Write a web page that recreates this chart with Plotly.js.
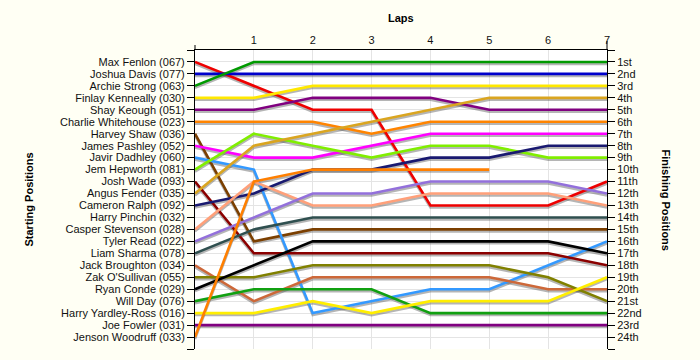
<!DOCTYPE html>
<html>
<head>
<meta charset="utf-8">
<script src="https://cdn.plot.ly/plotly-3.0.1.min.js"></script>
<style>html,body{margin:0;padding:0;background:#FFFFF4;}#chart{width:700px;height:360px;}</style>
</head>
<body>
<div id="chart"></div>
<script>
// ---- data ----
const laps = [0, 1, 2, 3, 4, 5, 6, 7];
const startingLabels = [
  "Max Fenlon (067)", "Joshua Davis (077)", "Archie Strong (063)", "Finlay Kenneally (030)",
  "Shay Keough (051)", "Charlie Whitehouse (023)", "Harvey Shaw (036)", "James Pashley (052)",
  "Javir Dadhley (060)", "Jem Hepworth (081)", "Josh Wade (093)", "Angus Fender (035)",
  "Cameron Ralph (092)", "Harry Pinchin (032)", "Casper Stevenson (028)", "Tyler Read (022)",
  "Liam Sharma (078)", "Jack Broughton (034)", "Zak O'Sullivan (055)", "Ryan Conde (029)",
  "Will Day (076)", "Harry Yardley-Ross (016)", "Joe Fowler (031)", "Jenson Woodruff (033)"
];
const finishingLabels = [
  "1st", "2nd", "3rd", "4th", "5th", "6th", "7th", "8th", "9th", "10th", "11th", "12th",
  "13th", "14th", "15th", "16th", "17th", "18th", "19th", "20th", "21st", "22nd", "23rd", "24th"
];

const posMaxFenlon        = [1, 3, 5, 5, 13, 13, 13, 11];
const posJoshuaDavis      = [2, 2, 2, 2, 2, 2, 2, 2];
const posArchieStrong     = [3, 1, 1, 1, 1, 1, 1, 1];
const posFinlayKenneally  = [4, 4, 3, 3, 3, 3, 3, 3];
const posShayKeough       = [5, 5, 4, 4, 4, 5, 5, 5];
const posCharlieWhitehouse= [6, 6, 6, 7, 6, 6, 6, 6];
const posHarveyShaw       = [7, 16, 15, 15, 15, 15, 15, 15];
const posJamesPashley     = [8, 9, 9, 8, 7, 7, 7, 7];
const posJavirDadhley     = [9, 10, 22, 21, 20, 20, 18, 16];
const posJemHepworth      = [10, 7, 8, 9, 8, 8, 9, 9];
const posJoshWade         = [11, 17, 17, 17, 17, 17, 17, 18];
const posAngusFender      = [12, 8, 7, 6, 5, 4, 4, 4];
const posCameronRalph     = [13, 12, 10, 10, 9, 9, 8, 8];
const posCasperStevenson  = [15, 11, 13, 13, 12, 12, 12, 13];
const posTylerRead        = [16, 14, 12, 12, 11, 11, 11, 12];
const posLiamSharma       = [17, 15, 14, 14, 14, 14, 14, 14];
const posJackBroughton    = [18, 21, 19, 19, 19, 19, 20, 20];
const posZakOSullivan     = [19, 19, 18, 18, 18, 18, 19, 21];
const posRyanConde        = [20, 18, 16, 16, 16, 16, 16, 17];
const posWillDay          = [21, 20, 20, 20, 22, 22, 22, 22];
const posHarryYardleyRoss = [22, 22, 21, 22, 21, 21, 21, 19];
const posJoeFowler        = [23, 23, 23, 23, 23, 23, 23, 23];
const posJensonWoodruff   = [24, 11, 10, 10, 10, 10];

const riders = [
  ["Max Fenlon", posMaxFenlon, "#EE0000"],
  ["Joshua Davis", posJoshuaDavis, "#0000CC"],
  ["Archie Strong", posArchieStrong, "#009A00"],
  ["Finlay Kenneally", posFinlayKenneally, "#FFE800"],
  ["Shay Keough", posShayKeough, "#800080"],
  ["Charlie Whitehouse", posCharlieWhitehouse, "#FF8400"],
  ["Harvey Shaw", posHarveyShaw, "#7B3F00"],
  ["James Pashley", posJamesPashley, "#FF00FF"],
  ["Javir Dadhley", posJavirDadhley, "#3399FF"],
  ["Jem Hepworth", posJemHepworth, "#80EE00"],
  ["Josh Wade", posJoshWade, "#8B0000"],
  ["Angus Fender", posAngusFender, "#DAA520"],
  ["Cameron Ralph", posCameronRalph, "#191970"],
  ["Casper Stevenson", posCasperStevenson, "#FFA07A"],
  ["Tyler Read", posTylerRead, "#9370DB"],
  ["Liam Sharma", posLiamSharma, "#2F4F4F"],
  ["Jack Broughton", posJackBroughton, "#CD6839"],
  ["Zak O'Sullivan", posZakOSullivan, "#808000"],
  ["Ryan Conde", posRyanConde, "#000000"],
  ["Will Day", posWillDay, "#11A011"],
  ["Harry Yardley-Ross", posHarryYardleyRoss, "#FFEE00"],
  ["Joe Fowler", posJoeFowler, "#800080"],
  ["Jenson Woodruff", posJensonWoodruff, "#FF7F00"]
];

// ---- traces ----
const traces = [];
riders.forEach(r => {
  traces.push({
    x: laps.slice(0, r[1].length), y: r[1], type: "scatter", mode: "lines",
    xaxis: "x", yaxis: "y", hoverinfo: "skip", showlegend: false,
    line: {color: "rgba(90,90,90,0.45)", width: 2.5}
  });
});
riders.forEach(r => {
  traces.push({
    x: laps.slice(0, r[1].length), y: r[1], type: "scatter", mode: "lines",
    name: r[0], xaxis: "x", yaxis: "y2", showlegend: false,
    line: {color: r[2], width: 2.6}
  });
});

const tickPos = [];
for (let i = 0; i <= 25; i++) tickPos.push(i);
const leftText = [""].concat(startingLabels, [""]);
const rightText = [""].concat(finishingLabels, [""]);

const H = 299, shift = 2 * 25 / H;
const font = {family: "Liberation Sans, Arial, sans-serif", size: 11, color: "#111"};
const tfont = {family: "Liberation Sans, Arial, sans-serif", size: 11, color: "#000", weight: "bold"};

const layout = {
  width: 700, height: 360,
  margin: {l: 195, r: 93, t: 50, b: 11, pad: 0},
  paper_bgcolor: "#FFFFF4", plot_bgcolor: "#FFFFFF",
  font: font, showlegend: false,
  xaxis: {
    range: [0, 7], side: "top", tickvals: [1, 2, 3, 4, 5, 6, 7],
    ticks: "outside", ticklen: 1, tickcolor: "rgba(0,0,0,0)",
    showline: true, linecolor: "#000", linewidth: 1,
    showgrid: true, gridcolor: "#E4E4E4", gridwidth: 1, zeroline: false,
    tickfont: font, fixedrange: true
  },
  yaxis: {
    range: [25 - shift, -shift], visible: false, showgrid: false, zeroline: false, fixedrange: true
  },
  yaxis2: {
    overlaying: "y", side: "left", range: [25, 0],
    tickvals: tickPos, ticktext: leftText, ticks: "outside", ticklen: 7, tickcolor: "#000",
    showline: true, linecolor: "#000", linewidth: 1,
    showgrid: true, gridcolor: "#E4E4E4", gridwidth: 1, zeroline: false,
    tickfont: font, fixedrange: true
  },
  yaxis3: {
    overlaying: "y", side: "right", range: [25, 0],
    tickvals: tickPos, ticktext: rightText, ticks: "outside", ticklen: 7, tickcolor: "#000",
    showline: true, linecolor: "#000", linewidth: 1,
    showgrid: false, zeroline: false, tickfont: font, fixedrange: true
  },
  annotations: [
    {text: "Laps", xref: "paper", yref: "paper", x: 0.5, y: 1 + 32 / H, xanchor: "center", yanchor: "middle", showarrow: false, font: tfont},
    {text: "Starting Positions", xref: "paper", yref: "paper", x: (28 - 195) / 412, y: 0.5, xanchor: "center", yanchor: "middle", textangle: -90, showarrow: false, font: tfont},
    {text: "Finishing Positions", xref: "paper", yref: "paper", x: (666 - 195) / 412, y: 0.5, xanchor: "center", yanchor: "middle", textangle: 90, showarrow: false, font: tfont}
  ],
  shapes: [
    {type: "line", xref: "paper", yref: "paper", x0: 0, x1: 0, y0: 1, y1: 1 + 5 / H, line: {color: "#000", width: 1}},
    {type: "line", xref: "paper", yref: "paper", x0: 1, x1: 1, y0: 1, y1: 1 + 9 / H, line: {color: "#000", width: 1}}
  ]
};
traces.push({x: [0], y: [0], xaxis: "x", yaxis: "y3", mode: "markers", marker: {opacity: 0}, hoverinfo: "skip", showlegend: false});

Plotly.newPlot("chart", traces, layout, {displayModeBar: false, staticPlot: true});
</script>
</body>
</html>
